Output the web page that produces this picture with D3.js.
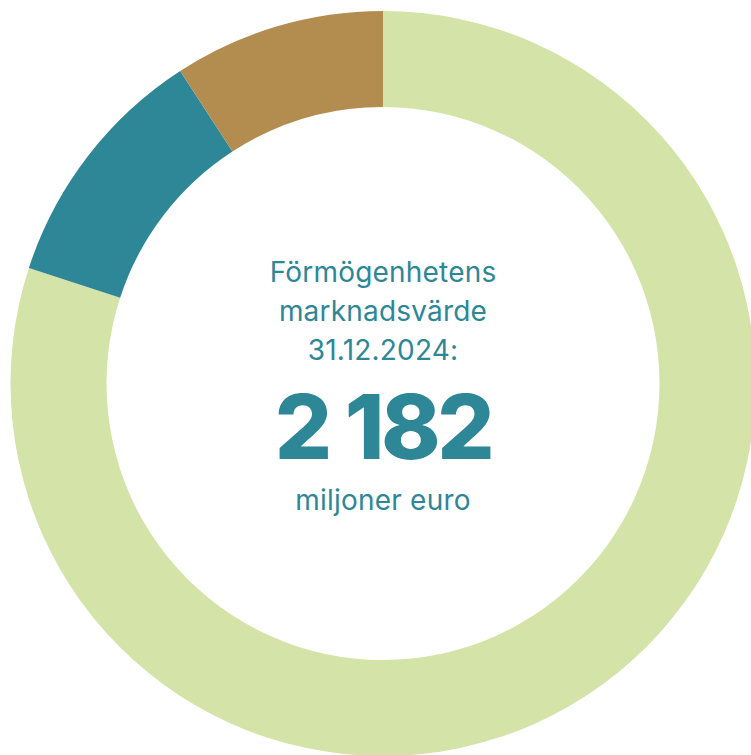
<!DOCTYPE html>
<html>
<head>
<meta charset="utf-8">
<script src="https://cdn.jsdelivr.net/npm/d3@7"></script>
<style>
  html, body { margin: 0; padding: 0; background: #fff; overflow: hidden; }
  svg { display: block; }
</style>
</head>
<body>
<div id="chart"></div>
<script>
let width = 751;
let height = 755;

// Segments, clockwise from 12 o'clock (millions of euro)
let segments = ["seg1", "seg2", "seg3"];
let values = [1746, 236, 200];
let colors = ["#d4e3a7", "#2e8797", "#b38d50"];

// Centre labels
let titleLines = ["Förmögenhetens", "marknadsvärde", "31.12.2024:"];
let totalLabel = "2 182";
let unitLabel = "miljoner euro";

let cx = 383, cy = 383.5;
let outerR = 372.5, innerR = 276.5;
let textColor = "#2e8797";

let svg = d3.select("#chart")
    .append("svg")
    .attr("width", width)
    .attr("height", height);

let data = segments.map(function(s, i) { return { key: s, value: values[i] }; });

let pie = d3.pie()
    .sort(null)
    .value(function(d) { return d.value; });

let arc = d3.arc()
    .innerRadius(innerR)
    .outerRadius(outerR);

let color = d3.scaleOrdinal().domain(segments).range(colors);

let g = svg.append("g")
    .attr("transform", "translate(" + cx + "," + cy + ")");

g.selectAll("path")
    .data(pie(data))
    .enter()
    .append("path")
    .attr("d", arc)
    .attr("fill", function(d) { return color(d.data.key); });

// centre text
let font = "Inter, 'Liberation Sans', sans-serif";

g.selectAll(".title")
    .data(titleLines)
    .enter()
    .append("text")
    .attr("class", "title")
    .attr("x", 0)
    .attr("y", function(d, i) { return 282 - cy + i * 39; })
    .attr("text-anchor", "middle")
    .attr("font-family", font)
    .attr("font-size", 28)
    .attr("letter-spacing", 0.2)
    .attr("fill", textColor)
    .text(function(d) { return d; });

g.append("text")
    .attr("x", 0)
    .attr("y", 459 - cy)
    .attr("text-anchor", "middle")
    .attr("font-family", font)
    .attr("font-weight", 800)
    .attr("font-size", 90)
    .attr("letter-spacing", -3.5)
    .attr("fill", textColor)
    .text(totalLabel);

g.append("text")
    .attr("x", 0)
    .attr("y", 510 - cy)
    .attr("text-anchor", "middle")
    .attr("font-family", font)
    .attr("font-size", 28)
    .attr("letter-spacing", 0.2)
    .attr("fill", textColor)
    .text(unitLabel);
</script>
</body>
</html>
